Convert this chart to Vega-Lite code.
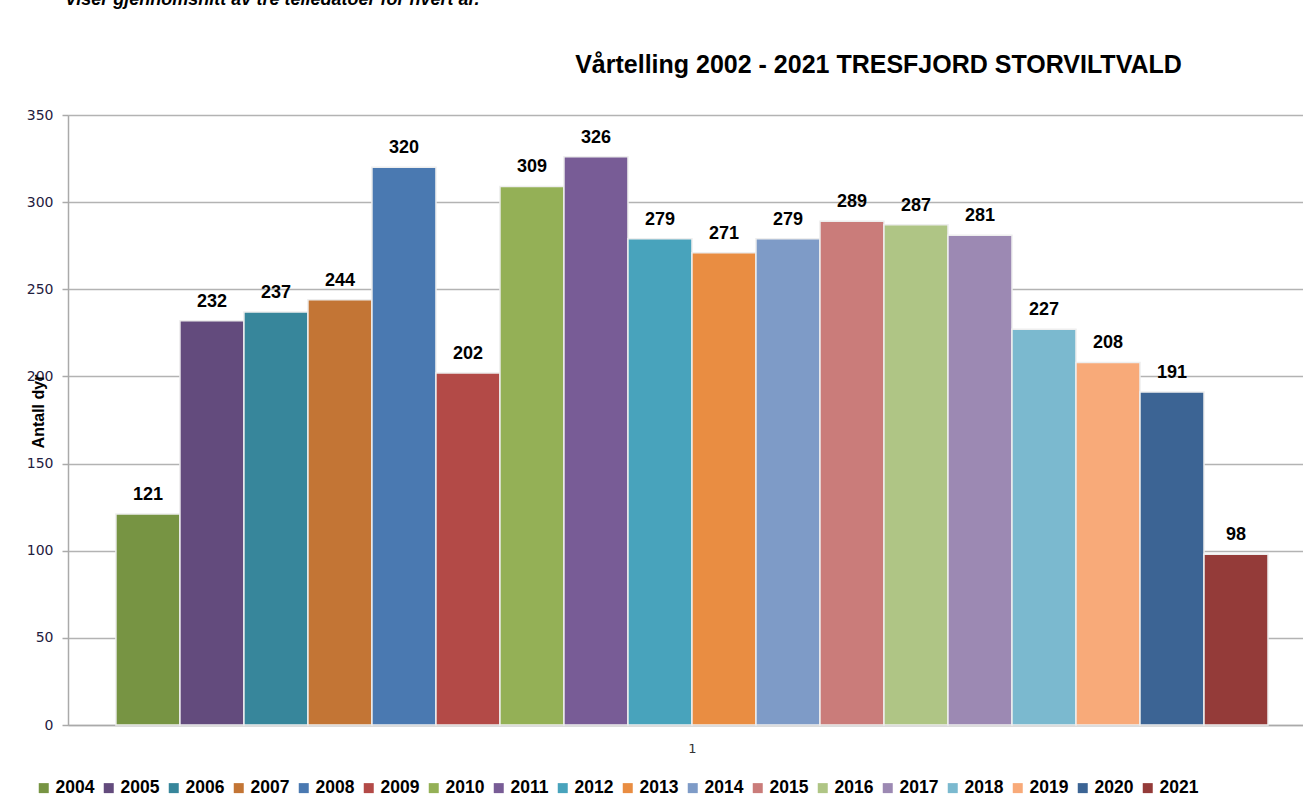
{
  "$schema": "https://vega.github.io/schema/vega-lite/v6.json",
  "autosize": "none",
  "width": 1235,
  "height": 610,
  "padding": {"left": 68, "top": 115, "right": 0, "bottom": 87},
  "background": "white",
  "title": {
    "text": "Viser gjennomsnitt av tre telledatoer for hvert år.",
    "anchor": "start",
    "frame": "group",
    "dx": -3,
    "offset": 43,
    "font": "Liberation Sans",
    "fontSize": 18,
    "fontStyle": "italic",
    "fontWeight": "bold",
    "color": "#000000"
  },
  "data": {
    "values": [
      {"year": "2004", "antall": 121},
      {"year": "2005", "antall": 232},
      {"year": "2006", "antall": 237},
      {"year": "2007", "antall": 244},
      {"year": "2008", "antall": 320},
      {"year": "2009", "antall": 202},
      {"year": "2010", "antall": 309},
      {"year": "2011", "antall": 326},
      {"year": "2012", "antall": 279},
      {"year": "2013", "antall": 271},
      {"year": "2014", "antall": 279},
      {"year": "2015", "antall": 289},
      {"year": "2016", "antall": 287},
      {"year": "2017", "antall": 281},
      {"year": "2018", "antall": 227},
      {"year": "2019", "antall": 208},
      {"year": "2020", "antall": 191},
      {"year": "2021", "antall": 98}
    ]
  },
  "layer": [
    {
      "mark": {"type": "bar", "stroke": "#eeeeee", "strokeWidth": 1.5},
      "encoding": {
        "x": {
          "field": "year",
          "type": "nominal",
          "sort": null,
          "scale": {"paddingInner": 0, "paddingOuter": 0.648, "align": 0.578},
          "axis": {
            "orient": "bottom",
            "labels": false,
            "ticks": false,
            "grid": false,
            "domain": true,
            "domainColor": "#aaaaaa",
            "domainWidth": 1.5,
            "title": "1",
            "titleX": 624,
            "titleY": 27,
            "titleAlign": "center",
            "titleBaseline": "alphabetic",
            "titleFont": "DejaVu Sans",
            "titleFontSize": 13,
            "titleFontWeight": "normal",
            "titleColor": "#333333"
          }
        },
        "y": {
          "field": "antall",
          "type": "quantitative",
          "scale": {"domain": [0, 350], "nice": false},
          "axis": {
            "values": [0, 50, 100, 150, 200, 250, 300, 350],
            "title": "Antall dyr",
            "titleFont": "Liberation Sans",
            "titleFontSize": 16,
            "titleFontWeight": "bold",
            "titleColor": "#000000",
            "titleX": -30,
            "titleY": 296,
            "titleAngle": -90,
            "titleAlign": "center",
            "titleBaseline": "middle",
            "labelFont": "DejaVu Sans",
            "labelFontSize": 14,
            "labelColor": "#1f2040",
            "labelPadding": 9,
            "tickSize": 6,
            "tickColor": "#aaaaaa",
            "tickWidth": 1.5,
            "domainColor": "#aaaaaa",
            "domainWidth": 1.5,
            "gridColor": "#b3b3b3",
            "gridWidth": 1.5
          }
        },
        "color": {
          "field": "year",
          "type": "nominal",
          "scale": {
            "domain": ["2004","2005","2006","2007","2008","2009","2010","2011","2012","2013","2014","2015","2016","2017","2018","2019","2020","2021"],
            "range": ["#779443","#634b7d","#37869b","#c37535","#4a79b1","#b34a47","#94b056","#785c96","#48a3bc","#e98d42","#7e9bc7","#ca7c7a","#afc585","#9c89b3","#7bb9cf","#f8aa79","#3c6494","#943b39"]
          },
          "legend": {
            "orient": "none",
            "legendX": -33,
            "legendY": 664,
            "direction": "horizontal",
            "columns": 18,
            "title": null,
            "symbolType": "square",
            "symbolSize": 100,
            "symbolStrokeWidth": 0,
            "labelFont": "Liberation Sans",
            "labelFontSize": 17.5,
            "labelFontWeight": "bold",
            "labelColor": "#000000",
            "labelOffset": 3,
            "columnPadding": 5,
            "padding": 0,
            "labelLimit": 100
          }
        }
      }
    },
    {
      "mark": {
        "type": "text",
        "baseline": "alphabetic",
        "dy": -14,
        "font": "Liberation Sans",
        "fontSize": 18,
        "fontWeight": "bold",
        "color": "#000000"
      },
      "encoding": {
        "x": {
          "field": "year",
          "type": "nominal",
          "sort": null,
          "axis": {
            "orient": "top",
            "labels": false,
            "ticks": false,
            "domain": false,
            "grid": false,
            "title": "Vårtelling 2002 - 2021 TRESFJORD STORVILTVALD",
            "titleX": 810,
            "titleY": -43,
            "titleAlign": "center",
            "titleBaseline": "alphabetic",
            "titleFont": "Liberation Sans",
            "titleFontSize": 25,
            "titleFontWeight": "bold",
            "titleColor": "#000000"
          }
        },
        "y": {"field": "antall", "type": "quantitative"},
        "text": {"field": "antall", "type": "quantitative"}
      }
    }
  ],
  "resolve": {"axis": {"x": "independent"}}
}
